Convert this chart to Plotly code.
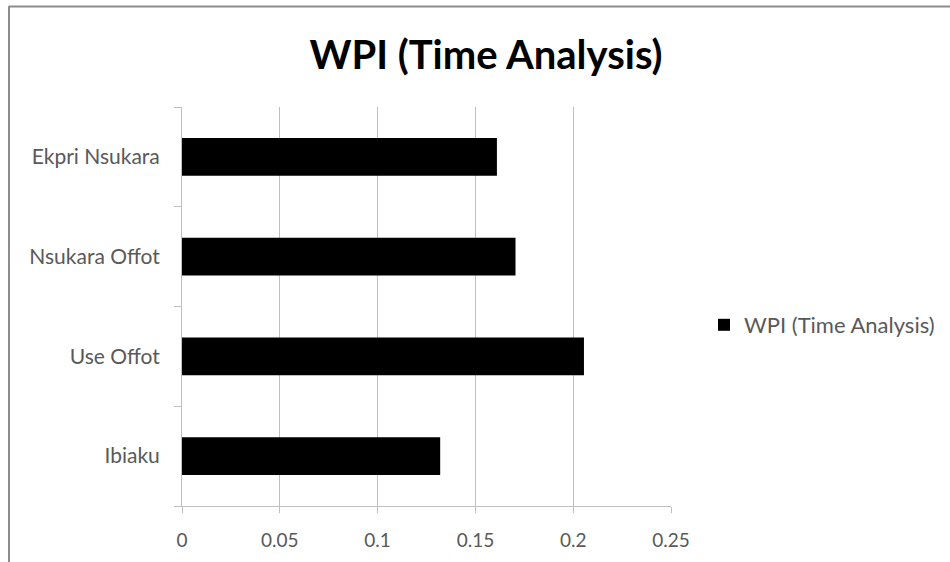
import plotly.graph_objects as go

categories = ["Ibiaku", "Use Offot", "Nsukara Offot", "Ekpri Nsukara"]
wpi_values = [0.132, 0.2055, 0.1705, 0.161]
series_name = "WPI (Time Analysis)"
x_ticks = [0, 0.05, 0.1, 0.15, 0.2, 0.25]
x_tick_labels = ["0", "0.05", "0.1", "0.15", "0.2", "0.25"]

W, H = 950, 562
L, R, T, B = 182, 671, 107, 506

def px_x(p):
    return (p - L) / (R - L)

def px_y(p):
    return (B - p) / (B - T)

FAM = "Lato, Open Sans, sans-serif"
label_font = dict(family=FAM, size=21, color="#595959")
xtick_font = dict(family=FAM, size=19, color="#595959")
legend_font = dict(family=FAM, size=22, color="#595959")

fig = go.Figure()
fig.add_trace(go.Bar(
    y=categories, x=wpi_values, orientation="h", name=series_name,
    marker=dict(color="#000000", line=dict(width=0)),
    showlegend=True,
))

fig.update_layout(
    width=W, height=H,
    margin=dict(l=L, r=W - R, t=T, b=H - B, pad=0, autoexpand=False),
    paper_bgcolor="white", plot_bgcolor="white",
    title=dict(text="<b>WPI (Time Analysis)</b>", x=486 / W, xanchor="center",
               y=1 - 55 / H, yanchor="middle",
               font=dict(family=FAM, size=40, color="#000000")),
    bargap=0.62,
    legend=dict(x=px_x(704), xanchor="left", y=px_y(325), yanchor="middle",
                font=legend_font, itemwidth=30, bgcolor="rgba(0,0,0,0)"),
    xaxis=dict(range=[0, 0.25], tickvals=x_ticks, ticktext=x_tick_labels,
               showgrid=True, gridcolor="#bfbfbf", gridwidth=1,
               showline=True, linecolor="#bfbfbf", linewidth=1,
               ticks="outside", ticklen=6, tickcolor="#bfbfbf",
               tickfont=xtick_font, ticklabelstandoff=11, zeroline=False,
               automargin=False),
    yaxis=dict(categoryorder="array", categoryarray=categories,
               showgrid=False, showline=True, linecolor="#bfbfbf", linewidth=1,
               ticks="outside", ticklen=7, tickcolor="#bfbfbf",
               tickson="boundaries", tickfont=label_font, ticklabelstandoff=17,
               automargin=False),
    shapes=[
        dict(type="line", xref="paper", yref="paper",
             x0=px_x(9), x1=px_x(950), y0=px_y(6.5), y1=px_y(6.5),
             line=dict(color="#8c8c8c", width=2)),
        dict(type="line", xref="paper", yref="paper",
             x0=px_x(9), x1=px_x(9), y0=px_y(6), y1=px_y(562),
             line=dict(color="#8c8c8c", width=2)),
    ],
)

fig.write_html("out.html")
